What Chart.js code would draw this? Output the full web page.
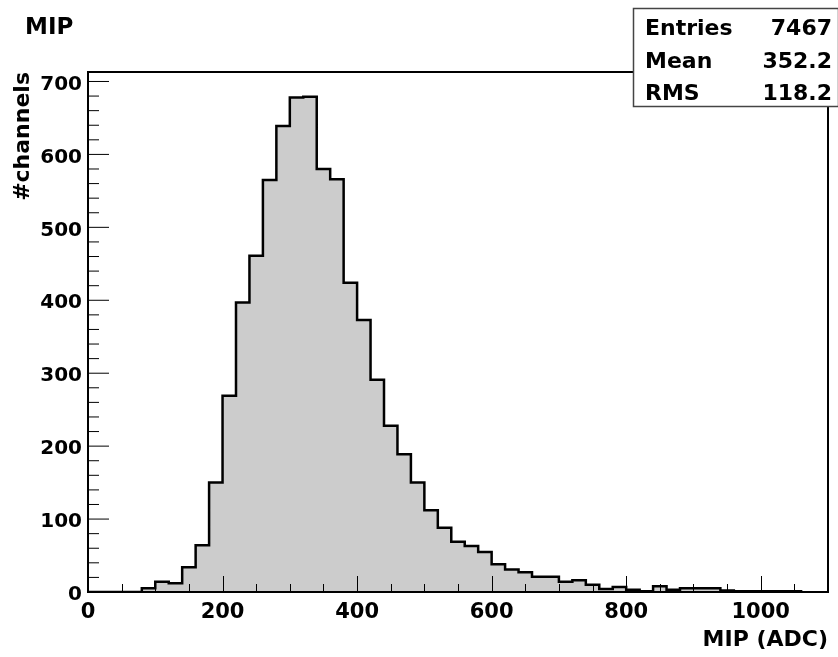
<!DOCTYPE html>
<html>
<head>
<meta charset="utf-8">
<title>MIP</title>
<script src="https://cdn.jsdelivr.net/npm/chart.js@4.4.1/dist/chart.umd.min.js"></script>
<style>
  html, body { margin: 0; padding: 0; background: #fff; }
  #wrap { width: 838px; height: 657px; }
</style>
</head>
<body>
<div id="wrap"><canvas id="mip"></canvas></div>
<script>
// lower edge of each 20 ADC bin
const binLow = [
  0, 20, 40, 60, 80, 100, 120, 140, 160, 180,
  200, 220, 240, 260, 280, 300, 320, 340, 360, 380,
  400, 420, 440, 460, 480, 500, 520, 540, 560, 580,
  600, 620, 640, 660, 680, 700, 720, 740, 760, 780,
  800, 820, 840, 860, 880, 900, 920, 940, 960, 980,
  1000, 1020, 1040
];
const binHigh = 1060;
// channels per bin
const counts = [
  0, 0, 0, 0, 5, 14, 12, 34, 64, 150,
  269, 397, 461, 565, 639, 678, 679, 580, 566, 424,
  373, 291, 228, 189, 150, 112, 88, 69, 63, 55,
  38, 31, 27, 21, 21, 14, 16, 10, 4, 7,
  3, 1, 8, 3, 5, 5, 5, 2, 1, 1,
  1, 1, 1
];
const xTicks = [0, 200, 400, 600, 800, 1000];
const yTicks = [0, 100, 200, 300, 400, 500, 600, 700];
const statNames = ["Entries", "Mean", "RMS"];
const statValues = ["7467", "352.2", "118.2"];

const FONT = "DejaVu Sans";
Chart.defaults.font.family = FONT;
Chart.defaults.font.weight = "bold";
Chart.defaults.color = "#000";

// histogram outline: step at every bin edge, closing down to zero
const points = binLow.map((x, i) => ({ x: x, y: counts[i] }));
points.push({ x: binHigh, y: 0 });

// ROOT-like frame, inward ticks, title and stats box
const rootStyle = {
  id: "rootStyle",
  afterDatasetsDraw(chart) {
    const { ctx, chartArea: a, scales: { x, y } } = chart;
    ctx.save();
    ctx.strokeStyle = "#000";
    ctx.lineWidth = 1;
    ctx.beginPath();
    for (let v = 0; v <= x.max; v += 50) {
      const px = Math.round(x.getPixelForValue(v)) + 0.5;
      const len = v % 200 === 0 ? 16 : 8;
      ctx.moveTo(px, a.bottom);
      ctx.lineTo(px, a.bottom - len);
    }
    for (let v = 0; v <= y.max; v += 20) {
      const py = y.getPixelForValue(v);
      const len = v % 100 === 0 ? 21 : 11;
      ctx.moveTo(a.left, py);
      ctx.lineTo(a.left + len, py);
    }
    ctx.stroke();
    ctx.lineWidth = 2;
    ctx.strokeRect(a.left, a.top, a.right - a.left, a.bottom - a.top);
    ctx.restore();
  },
  afterDraw(chart) {
    const ctx = chart.ctx;
    ctx.save();
    ctx.fillStyle = "#000";
    ctx.font = "bold 23px " + FONT;
    ctx.textBaseline = "alphabetic";
    ctx.fillText("MIP", 25, 34);

    // stats box
    const bx = 633, by = 8, bw = 205, bh = 98;
    ctx.fillStyle = "#fff";
    ctx.fillRect(bx, by, bw, bh);
    ctx.strokeStyle = "#444";
    ctx.lineWidth = 1.5;
    ctx.strokeRect(bx + 0.5, by + 0.5, bw, bh);
    ctx.fillStyle = "#000";
    ctx.font = "bold 22px " + FONT;
    statNames.forEach((name, i) => {
      const base = by + 27 + i * 32.7;
      ctx.textAlign = "left";
      ctx.fillText(name, 645, base);
      ctx.textAlign = "right";
      ctx.fillText(statValues[i], 832, base);
    });
    ctx.restore();
  }
};

new Chart(document.getElementById("mip"), {
  type: "line",
  data: {
    datasets: [{
      data: points,
      stepped: true,
      fill: "origin",
      backgroundColor: "#cccccc",
      borderColor: "#000",
      borderWidth: 2.5,
      pointRadius: 0,
      tension: 0
    }]
  },
  options: {
    responsive: true,
    maintainAspectRatio: false,
    animation: false,
    layout: { padding: { top: 72, right: 10, left: 0, bottom: 0 } },
    plugins: { legend: { display: false }, tooltip: { enabled: false } },
    scales: {
      x: {
        type: "linear",
        min: 0,
        max: 1100,
        afterBuildTicks: (s) => { s.ticks = xTicks.map((v) => ({ value: v })); },
        afterFit: (s) => { s.height = 65; },
        grid: { display: false, drawTicks: false },
        border: { display: false },
        ticks: { font: { size: 21 }, padding: 8, maxRotation: 0, callback: (v) => String(v) },
        title: {
          display: true,
          text: "MIP (ADC)",
          align: "end",
          font: { size: 22 },
          padding: { top: 0, bottom: 4 }
        }
      },
      y: {
        min: 0,
        max: 713,
        afterBuildTicks: (s) => { s.ticks = yTicks.map((v) => ({ value: v })); },
        afterFit: (s) => { s.width = 88; },
        grid: { display: false, drawTicks: false },
        border: { display: false },
        ticks: { font: { size: 20 }, padding: 6, labelOffset: 3, callback: (v) => String(v) },
        title: {
          display: true,
          text: "#channels",
          align: "end",
          font: { size: 22 },
          padding: { top: 10, bottom: 0 }
        }
      }
    }
  },
  plugins: [rootStyle]
});
</script>
</body>
</html>
